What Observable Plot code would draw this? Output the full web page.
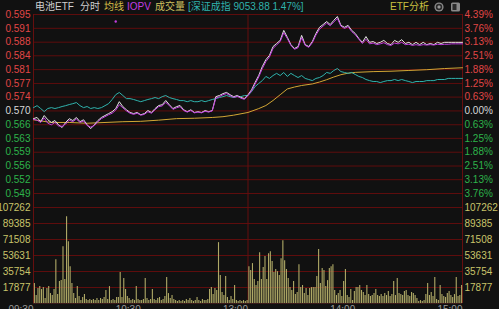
<!DOCTYPE html>
<html><head><meta charset="utf-8">
<script src="https://cdn.jsdelivr.net/npm/d3@7"></script>
<script src="https://cdn.jsdelivr.net/npm/@observablehq/plot@0.6"></script>
<style>
html,body{margin:0;padding:0;background:#111;overflow:hidden}
#chart{position:relative;width:499px;height:309px;background:#111;overflow:hidden;font-family:"Liberation Sans","Noto Sans CJK SC",sans-serif}
#chart svg{display:block}
.hdr{position:absolute;top:0;font-size:10px;line-height:13px;white-space:nowrap;font-family:"Liberation Sans","Noto Sans CJK SC",sans-serif}
</style></head><body><div id="chart"></div>
<script>
const base = 0.570; // previous close
const minutes = d3.range(0, 241, 2);
const price = [0.5680,0.5683,0.5672,0.5688,0.5677,0.5670,0.5675,0.5664,0.5657,0.5670,
0.5680,0.5675,0.5683,0.5672,0.5677,0.5664,0.5654,0.5664,0.5675,0.5683,
0.5688,0.5693,0.5698,0.5706,0.5724,0.5711,0.5703,0.5696,0.5693,0.5696,
0.5690,0.5693,0.5701,0.5696,0.5706,0.5714,0.5716,0.5727,0.5716,0.5706,
0.5711,0.5714,0.5703,0.5698,0.5703,0.5696,0.5698,0.5696,0.5701,0.5698,
0.5701,0.5737,0.5740,0.5745,0.5748,0.5742,0.5737,0.5740,0.5735,0.5732,
0.5742,0.5755,0.5774,0.5792,0.5815,0.5833,0.5844,0.5867,0.5875,0.5883,
0.5909,0.5891,0.5872,0.5862,0.5867,0.5896,0.5872,0.5867,0.5880,0.5901,
0.5917,0.5924,0.5932,0.5924,0.5935,0.5945,0.5922,0.5917,0.5922,0.5909,
0.5901,0.5888,0.5878,0.5893,0.5878,0.5880,0.5875,0.5878,0.5883,0.5875,
0.5872,0.5883,0.5878,0.5885,0.5875,0.5878,0.5872,0.5878,0.5872,0.5878,
0.5872,0.5875,0.5872,0.5878,0.5875,0.5878,0.5878,0.5878,0.5878,0.5878,0.5878];
const iopv = [0.5678,0.5676,0.5670,0.5682,0.5668,0.5664,0.5670,0.5661,0.5660,0.5666,
0.5676,0.5672,0.5679,0.5670,0.5674,0.5662,0.5658,0.5662,0.5672,0.5680,
0.5685,0.5690,0.5694,0.5702,0.5716,0.5708,0.5700,0.5694,0.5691,0.5694,
0.5689,0.5691,0.5698,0.5694,0.5703,0.5711,0.5713,0.5722,0.5714,0.5704,
0.5708,0.5711,0.5701,0.5697,0.5701,0.5695,0.5697,0.5695,0.5699,0.5697,
0.5700,0.5733,0.5737,0.5742,0.5745,0.5740,0.5735,0.5738,0.5733,0.5730,
0.5740,0.5752,0.5770,0.5788,0.5810,0.5828,0.5840,0.5862,0.5871,0.5880,
0.5903,0.5888,0.5870,0.5860,0.5864,0.5890,0.5870,0.5865,0.5877,0.5897,
0.5912,0.5920,0.5928,0.5921,0.5931,0.5940,0.5920,0.5914,0.5919,0.5906,
0.5898,0.5886,0.5875,0.5886,0.5874,0.5876,0.5872,0.5874,0.5877,0.5872,
0.5870,0.5876,0.5874,0.5878,0.5872,0.5873,0.5870,0.5872,0.5870,0.5872,
0.5871,0.5872,0.5871,0.5873,0.5872,0.5873,0.5873,0.5874,0.5874,0.5874,0.5874];
const iopvMarkTime = [46];
const iopvMarkPrice = [0.5932];
const avgTimes = [0,10,20,30,40,50,60,70,80,90,100,106,112,120,126,130,134,138,142,146,150,156,160,164,168,172,176,180,190,200,210,220,230,240];
const avgPrice = [0.5677,0.5670,0.5670,0.5668,0.5670,0.5672,0.5673,0.5676,0.5680,0.5681,0.5683,0.5685,0.5689,0.5696,0.5706,0.5714,0.5727,0.5742,0.5757,0.5762,0.5766,0.5770,0.5775,0.5781,0.5788,0.5794,0.5798,0.5800,0.5802,0.5803,0.5805,0.5807,0.5810,0.5812];
const indexPct = [0.15,0.24,0.11,-0.03,0.11,0.15,0.11,0.15,0.20,0.24,
0.29,0.33,0.38,0.24,0.15,0.20,0.11,0.15,0.11,0.15,
0.24,0.33,0.52,0.74,0.84,0.70,0.56,0.56,0.52,0.47,
0.42,0.47,0.52,0.56,0.61,0.56,0.65,0.70,0.61,0.56,
0.52,0.47,0.47,0.42,0.47,0.42,0.42,0.47,0.42,0.47,
0.52,0.56,0.61,0.65,0.70,0.65,0.61,0.65,0.65,0.70,
0.70,0.88,1.11,1.25,1.38,1.57,1.48,1.61,1.71,1.61,
1.75,1.57,1.71,1.61,1.52,1.61,1.48,1.43,1.38,1.48,
1.52,1.61,1.75,1.71,1.84,1.93,1.79,1.75,1.71,1.75,
1.66,1.57,1.52,1.43,1.38,1.34,1.34,1.29,1.34,1.38,
1.38,1.43,1.38,1.43,1.38,1.34,1.29,1.34,1.34,1.34,
1.38,1.38,1.38,1.43,1.43,1.43,1.48,1.48,1.48,1.48,1.48];
const volume = [22300,8900,16700,18900,15600,17800,5600,16700,18900,11100,
8900,15600,49000,10000,24500,25600,63500,26700,96900,69100,
41200,22300,11100,5600,18900,7800,3300,6700,10000,4500,
3300,4500,3300,4500,3300,5600,3300,5600,4500,6700,
14500,4500,18900,3300,4500,3300,6700,6700,34500,6700,
27900,15600,7800,5600,3300,4500,3300,18900,4500,3300,
3300,4500,27900,5600,3300,4500,15600,4500,3300,5600,
6700,3300,4500,7800,29000,11100,5600,8900,4500,3300,
2200,3300,2200,3300,2200,4500,3300,5600,3300,2200,
3300,6700,3300,2200,4500,3300,3300,4500,15600,17800,
10000,16700,14500,68000,31200,12300,8900,30100,6700,3300,
7800,4500,20100,3300,2200,3300,2200,3300,2200,3300,
41200,36800,44600,26700,20100,24500,56800,26700,40100,52400,
26700,55700,57900,46800,34500,37900,35600,31200,50100,70200,
47900,37900,27900,17800,14500,24500,10000,12300,43400,17800,
20100,11100,16700,8900,16700,17800,17800,17800,30100,60200,
22300,39000,36800,18900,25600,39000,41200,43400,14500,8900,
11100,14500,7800,24500,37900,8900,6700,15600,3300,13400,
17800,17800,20100,14500,12300,8900,20100,10000,7800,8900,
11100,15600,8900,7800,10000,7800,11100,8900,13400,7800,
10000,24500,8900,27900,11100,10000,8900,13400,14500,8900,
7800,12300,11100,8900,5600,2200,3300,2200,3300,10000,
22300,8900,12300,7800,29000,4500,3300,20100,10000,7800,
6700,11100,13400,8900,6700,10000,29000,7800,8900,20100];
const pctTicks = [4.39,3.76,3.13,2.51,1.88,1.25,0.63,0,-0.63,-1.25,-1.88,-2.51,-3.13,-3.76];
const priceTickLabels = ["0.595","0.591","0.588","0.584","0.581","0.577","0.574","0.570","0.566","0.563","0.559","0.556","0.552","0.549"];
const pctTickLabels = ["4.39%","3.76%","3.13%","2.51%","1.88%","1.25%","0.63%","0.00%","0.63%","1.25%","1.88%","2.51%","3.13%","3.76%"];
const volTicks = [107262,89385,71508,53631,35754,17877];
const volTickLabels = ["107262","89385","71508","53631","35754","17877"];
const timeTicks = [0,60,120,180,240];
const timeLabels = ["09:30","10:30","13:00","14:00","15:00"];
const borderTimes = [0,120,240];

const C = {
  grid: "#5e0d0d", border: "#660f0f", up: "#e04646", down: "#2db34a", flat: "#d8d8d8",
  vol: "#afa966", volText: "#c9c46a", price: "#e6e6e6", iopv: "#c23ee0", avg: "#d2a634", index: "#2fb3ad", time: "#9a9a9a"
};
const toPct = p => (p / base - 1) * 100;
const font = {fontFamily: "Liberation Sans, Arial, sans-serif", fontSize: "10px", background: "transparent", overflow: "hidden"};
const idx = pctTicks.map((d, i) => i);

const pricePlot = Plot.plot({
  width: 499, height: 200,
  marginLeft: 33, marginRight: 37, marginTop: 14, marginBottom: 7,
  x: {domain: [0, 240], axis: null},
  y: {domain: [-3.76, 4.39], axis: null},
  style: font,
  marks: [
    Plot.ruleY(pctTicks, {stroke: C.grid, strokeWidth: 1}),
    Plot.ruleX(borderTimes, {stroke: C.border, insetBottom: -7, strokeWidth: 1}),
    Plot.line(avgTimes.map((t, i) => [t, toPct(avgPrice[i])]), {x: d => d[0], y: d => d[1], stroke: C.avg, strokeWidth: 1}),
    Plot.line(minutes.map((t, i) => [t, indexPct[i]]), {x: d => d[0], y: d => d[1], stroke: C.index, strokeWidth: 1}),
    Plot.line(minutes.map((t, i) => [t, toPct(price[i])]), {x: d => d[0], y: d => d[1], stroke: C.price, strokeWidth: 1}),
    Plot.line(minutes.map((t, i) => [t, toPct(iopv[i])]), {x: d => d[0], y: d => d[1], stroke: C.iopv, strokeWidth: 1}),
    Plot.dot(iopvMarkTime.map((t, i) => [t, toPct(iopvMarkPrice[i])]), {x: d => d[0], y: d => d[1], r: 1.2, fill: C.iopv, stroke: "none"}),
    Plot.text(idx.filter(i => pctTicks[i] > 0), {y: i => pctTicks[i], text: i => priceTickLabels[i], frameAnchor: "left", textAnchor: "end", dx: -3, fill: C.up}),
    Plot.text(idx.filter(i => pctTicks[i] === 0), {y: i => pctTicks[i], text: i => priceTickLabels[i], frameAnchor: "left", textAnchor: "end", dx: -3, fill: C.flat}),
    Plot.text(idx.filter(i => pctTicks[i] < 0), {y: i => pctTicks[i], text: i => priceTickLabels[i], frameAnchor: "left", textAnchor: "end", dx: -3, fill: C.down}),
    Plot.text(idx.filter(i => pctTicks[i] > 0), {y: i => pctTicks[i], text: i => pctTickLabels[i], frameAnchor: "right", textAnchor: "start", dx: 2, fill: C.up}),
    Plot.text(idx.filter(i => pctTicks[i] === 0), {y: i => pctTicks[i], text: i => pctTickLabels[i], frameAnchor: "right", textAnchor: "start", dx: 2, fill: C.flat}),
    Plot.text(idx.filter(i => pctTicks[i] < 0), {y: i => pctTicks[i], text: i => pctTickLabels[i], frameAnchor: "right", textAnchor: "start", dx: 2, fill: C.down})
  ]
});

const volPlot = Plot.plot({
  width: 499, height: 109,
  marginLeft: 33, marginRight: 37, marginTop: 7, marginBottom: 6,
  x: {domain: [0, 240], axis: null},
  y: {domain: [0, 107262], axis: null},
  style: font,
  marks: [
    Plot.ruleY(volTicks, {stroke: C.grid, strokeWidth: 1}),
    Plot.ruleY([0], {stroke: "#3a1a1a", strokeWidth: 1}),
    Plot.ruleX(borderTimes, {stroke: C.border, insetTop: -7, strokeWidth: 1}),
    Plot.ruleX(volume, {x: (d, i) => i + 0.5, y1: 0, y2: d => d, stroke: C.vol, strokeWidth: 1.1}),
    Plot.text(volTicks, {y: d => d, text: (d, i) => volTickLabels[i], frameAnchor: "left", textAnchor: "end", dx: -3, fill: C.volText}),
    Plot.text(volTicks, {y: d => d, text: (d, i) => volTickLabels[i], frameAnchor: "right", textAnchor: "start", dx: 2, fill: C.volText}),
    Plot.text(timeTicks, {x: d => d, text: (d, i) => timeLabels[i], frameAnchor: "bottom", lineAnchor: "top", textAnchor: "end", dy: 2, fill: C.time})
  ]
});

const chart = document.getElementById("chart");
chart.appendChild(pricePlot);
chart.appendChild(volPlot);

const header = [
  {x: 35, t: "电池ETF", c: "#cfcfcf"},
  {x: 80, t: "分时", c: "#cfcfcf"},
  {x: 104, t: "均线", c: "#d6bf48"},
  {x: 127, t: "IOPV", c: C.iopv},
  {x: 155, t: "成交量", c: "#cdc060"},
  {x: 188, t: "[深证成指 9053.88 1.47%]", c: C.index},
  {x: 390, t: "ETF分析", c: "#c8c040"}
];
header.forEach(h => {
  const s = document.createElement("span");
  s.className = "hdr"; s.style.left = h.x + "px"; s.style.color = h.c; s.textContent = h.t;
  chart.appendChild(s);
});
const icons = document.createElement("div");
icons.style.cssText = "position:absolute;left:432px;top:1px;width:30px;height:12px";
icons.innerHTML = '<svg width="30" height="12" viewBox="0 0 30 12"><circle cx="7" cy="6" r="4.6" fill="#8a8a8a"/><circle cx="7" cy="6" r="3.2" fill="#2a2a2a"/><path d="M5.3 6h3.4M7 4.3v3.4" stroke="#bbb" stroke-width="1"/><rect x="19" y="1.5" width="9" height="9" rx="1.5" fill="#8a8a8a"/><rect x="20.5" y="3" width="4" height="6" fill="#2a2a2a"/></svg>';
chart.appendChild(icons);
</script></body></html>
